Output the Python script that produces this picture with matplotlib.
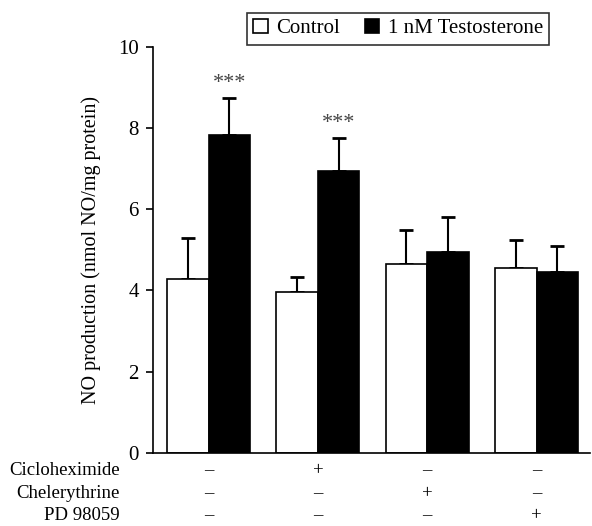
import numpy as np
import matplotlib
matplotlib.use('Agg')
import matplotlib.pyplot as plt

plt.rcParams['font.family'] = ['Liberation Serif', 'DejaVu Serif']

# data
control = [4.27, 3.95, 4.65, 4.55]
control_err = [1.03, 0.37, 0.83, 0.70]
testo = [7.82, 6.93, 4.95, 4.45]
testo_err = [0.93, 0.83, 0.87, 0.65]
stars = ['***', '***', '', '']

row_names = ['Cicloheximide', 'Chelerythrine', 'PD 98059']
row_signs = [['\u2013', '+', '\u2013', '\u2013'],
             ['\u2013', '\u2013', '+', '\u2013'],
             ['\u2013', '\u2013', '\u2013', '+']]

x = np.arange(len(control))
w = 0.38

fig = plt.figure(figsize=(5.92, 5.26), dpi=100)
ax = fig.add_axes([0.258, 0.139, 0.739, 0.772])

ax.bar(x - w/2, control, w, color='white', edgecolor='black', linewidth=1.2,
       label='Control', zorder=2)
ax.bar(x + w/2, testo, w, color='black', edgecolor='black', linewidth=1.2,
       label='1 nM Testosterone', zorder=2)

# upward error bars only
ax.errorbar(x - w/2, control, yerr=[np.zeros(4), control_err], fmt='none',
            ecolor='black', elinewidth=1.5, capsize=5, capthick=2, zorder=1)
ax.errorbar(x + w/2, testo, yerr=[np.zeros(4), testo_err], fmt='none',
            ecolor='black', elinewidth=1.5, capsize=5, capthick=2, zorder=1)

for i, s in enumerate(stars):
    if s:
        ax.text(x[i] + w/2, testo[i] + testo_err[i] + 0.12, s, ha='center',
                va='bottom', fontsize=16, color='#444444')

ax.set_xlim(-0.51, 3.49)
ax.set_ylim(0, 10)
ax.set_yticks([0, 2, 4, 6, 8, 10])
ax.tick_params(axis='y', labelsize=15, length=5, width=1.2, pad=5,
               direction='out')
ax.set_xticks([])
ax.spines['top'].set_visible(False)
ax.spines['right'].set_visible(False)
ax.spines['left'].set_linewidth(1.2)
ax.spines['bottom'].set_linewidth(1.2)
ax.set_ylabel('NO production (nmol NO/mg protein)', fontsize=14.5, labelpad=12)

# treatment table under the axis
row_y = [-0.044, -0.101, -0.154]
trans = ax.get_xaxis_transform()
for name, signs, yy in zip(row_names, row_signs, row_y):
    ax.text(-0.81, yy, name, transform=trans, ha='right', va='center',
            fontsize=13.5, clip_on=False)
    for xi, s in zip(x, signs):
        ax.text(xi, yy, s, transform=trans, ha='center', va='center',
                fontsize=13.5, clip_on=False)

leg = ax.legend(loc='upper right', bbox_to_anchor=(0.93, 1.11), ncol=2,
                fontsize=15, frameon=True, fancybox=False, edgecolor='black',
                handlelength=0.7, handleheight=0.7, handletextpad=0.4,
                columnspacing=1.2, borderpad=0.3)
leg.get_frame().set_linewidth(1.2)

fig.savefig('out.png', dpi=100)
